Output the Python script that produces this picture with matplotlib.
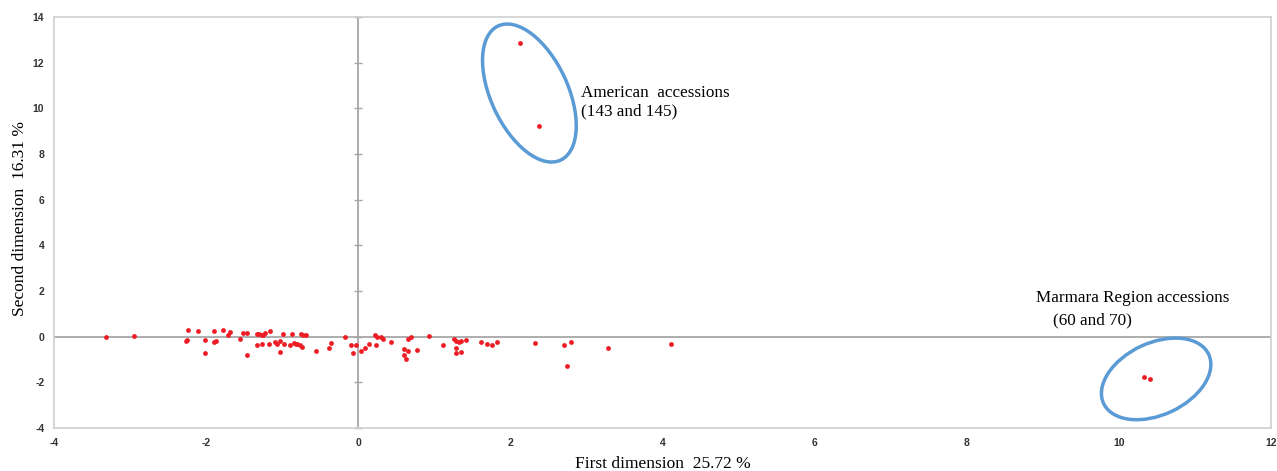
import numpy as np
import matplotlib.pyplot as plt
from matplotlib.patches import Ellipse
import matplotlib.transforms as mtransforms

plt.rcParams['axes.unicode_minus'] = False

# first and second dimension scores
dim1 = [-3.31, -2.95, -2.24, -2.11, -2.26, -2.25, -2.01, -2.02, -1.89, -1.89,
        -1.87, -1.78, -1.68, -1.71, -1.56, -1.52, -1.46, -1.46, -1.33, -1.30,
        -1.26, -1.22, -1.25, -1.16, -1.33, -1.26, -1.17, -1.09, -1.07, -1.03,
        -1.03, -0.99, -0.97, -0.90, -0.87, -0.85, -0.82, -0.80, -0.77, -0.74,
        -0.75, -0.73, -0.69, -0.56, -0.38, -0.36, -0.18, -0.09, -0.03, -0.07,
        0.04, 0.09, 0.14, 0.22, 0.24, 0.30, 0.32, 0.23, 0.43, 0.60,
        0.60, 0.63, 0.66, 0.66, 0.69, 0.77, 0.93, 1.11, 1.26, 1.29,
        1.32, 1.35, 1.42, 1.29, 1.29, 1.35, 1.62, 1.69, 1.76, 1.83,
        2.33, 2.70, 2.74, 2.80, 3.28, 4.11,
        2.12, 2.38, 10.33, 10.41]
dim2 = [0.00, 0.02, 0.31, 0.26, -0.19, -0.13, -0.13, -0.73, 0.26, -0.25,
        -0.19, 0.31, 0.21, 0.07, -0.09, 0.16, 0.16, -0.79, 0.12, 0.12,
        0.07, 0.15, 0.06, 0.26, -0.38, -0.33, -0.33, -0.23, -0.31, -0.19,
        -0.68, 0.10, -0.33, -0.38, 0.10, -0.28, -0.31, -0.33, -0.38, -0.44,
        0.12, 0.06, 0.06, -0.64, -0.48, -0.29, -0.03, -0.38, -0.38, -0.73,
        -0.64, -0.48, -0.33, 0.07, -0.03, -0.03, -0.09, -0.38, -0.23, -0.54,
        -0.79, -0.99, -0.64, -0.09, -0.03, -0.58, 0.02, -0.38, -0.09, -0.19,
        -0.23, -0.19, -0.13, -0.48, -0.73, -0.68, -0.23, -0.33, -0.38, -0.23,
        -0.29, -0.38, -1.28, -0.23, -0.48, -0.33,
        12.86, 9.23, -1.78, -1.84]

x_ticks = [-4, -2, 0, 2, 4, 6, 8, 10, 12]
y_ticks = [-4, -2, 0, 2, 4, 6, 8, 10, 12, 14]

fig = plt.figure(figsize=(12.77, 4.71), dpi=100)
ax = fig.add_axes([54 / 1277, 1 - 428 / 471, 1217 / 1277, 411 / 471])

ax.set_xlim(-4, 12)
ax.set_ylim(-4, 14)
ax.set_xticks(x_ticks)
ax.set_yticks(y_ticks)
ax.tick_params(length=0, labelsize=7.5, pad=7, colors='#333333')
for lab in ax.get_xticklabels() + ax.get_yticklabels():
    lab.set_fontfamily('Liberation Sans')
    lab.set_fontweight('bold')
for s in ax.spines.values():
    s.set_color('#d0d0d0')
    s.set_linewidth(1.2)

# zero axes, with little cross ticks on the vertical one
ax.axhline(0, color='#a0a0a0', lw=1.2, zorder=1)
ax.axvline(0, color='#a0a0a0', lw=1.2, zorder=1)
ax.plot([0] * len(y_ticks), y_ticks, ls='none', marker='_', ms=6, mew=1.0,
        color='#a6a6a6', zorder=1, clip_on=False)

ax.scatter(dim1, dim2, s=12, color='#ee1c25', zorder=3, linewidths=0)

# ellipses drawn in screen units around a data-space centre
def ring(cx, cy, w, h, ang):
    tr = fig.dpi_scale_trans + mtransforms.ScaledTranslation(cx, cy, ax.transData)
    ax.add_patch(Ellipse((0, 0), w / 100, h / 100, angle=ang, transform=tr,
                         fill=False, ec='#5b9bd5', lw=2.5, zorder=4))

ring(2.25, 10.67, 148, 77, 115)
ring(10.49, -1.85, 116, 72, 25)

serif = 'Liberation Serif'
fs = 12.3
ax.text(2.93, 10.29, 'American  accessions\n(143 and 145)', family=serif,
        fontsize=fs, va='center', ha='left', linespacing=1.2)
ax.text(8.91, 1.70, 'Marmara Region accessions', family=serif, fontsize=fs,
        va='center', ha='left')
ax.text(9.14, 0.73, '(60 and 70)', family=serif, fontsize=fs,
        va='center', ha='left')

fig.text(663 / 1277, 1 - 464 / 471, 'First dimension  25.72 %', family=serif,
         fontsize=12.5, ha='center', va='center')
fig.text(20 / 1277, 1 - 219 / 471, 'Second dimension  16.31 %', family=serif,
         fontsize=12.5, ha='center', va='center', rotation=90)

fig.savefig('out.png', dpi=100)
